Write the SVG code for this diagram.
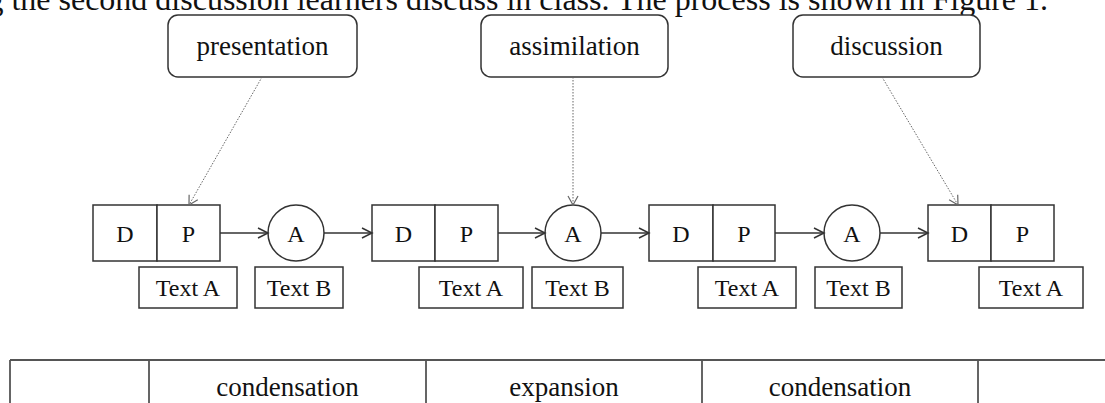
<svg xmlns="http://www.w3.org/2000/svg" width="1105" height="403" viewBox="0 0 1105 403">
<style>
text{font-family:"Liberation Serif","Times New Roman",serif;fill:#111}
.lbl{font-size:27px;text-anchor:middle}
.t{font-size:24px;text-anchor:middle}
.rb{fill:#fff;stroke:#333;stroke-width:1.5}
.bx{fill:#fff;stroke:#333;stroke-width:1.5}
.ar{fill:none;stroke:#333;stroke-width:1.5;marker-end:url(#ah)}
.dl{fill:none;stroke:#666;stroke-width:1;stroke-dasharray:1.5 1.5;marker-end:url(#dh)}
.tb{fill:none;stroke:#555;stroke-width:1.8}
</style>
<defs>
<marker id="ah" markerUnits="userSpaceOnUse" markerWidth="14" markerHeight="14" refX="11" refY="6" orient="auto">
<path d="M1,1 L11,6 L1,11" fill="none" stroke="#333" stroke-width="1.5"/>
</marker>
<marker id="dh" markerUnits="userSpaceOnUse" markerWidth="14" markerHeight="14" refX="10" refY="6" orient="auto">
<path d="M1,1 L10,6 L1,11" fill="none" stroke="#666" stroke-width="1.2"/>
</marker>
</defs>
<text x="1048" y="10" style="font-size:32px;text-anchor:end">g the second discussion learners discuss in class. The process is shown in Figure 1.</text>
<g id="presentation"><rect class="rb" x="168" y="15" width="189" height="62" rx="10"/><text class="lbl" x="262.5" y="55">presentation</text></g>
<g id="assimilation"><rect class="rb" x="481" y="15" width="187" height="62" rx="10"/><text class="lbl" x="574.5" y="55">assimilation</text></g>
<g id="discussion"><rect class="rb" x="793" y="15" width="187" height="62" rx="10"/><text class="lbl" x="886.5" y="55">discussion</text></g>
<g id="dp1"><rect class="bx" x="93" y="205" width="64" height="56"/><rect class="bx" x="157" y="205" width="63" height="56"/><text class="t" x="125" y="242">D</text><text class="t" x="188.5" y="242">P</text></g>
<g id="a1"><circle class="bx" cx="296" cy="233" r="28"/><text class="t" x="296" y="242">A</text></g>
<g id="dp2"><rect class="bx" x="372" y="205" width="63" height="56"/><rect class="bx" x="435" y="205" width="63" height="56"/><text class="t" x="403.5" y="242">D</text><text class="t" x="466.5" y="242">P</text></g>
<g id="a2"><circle class="bx" cx="573" cy="233" r="28"/><text class="t" x="573" y="242">A</text></g>
<g id="dp3"><rect class="bx" x="649" y="205" width="64" height="56"/><rect class="bx" x="713" y="205" width="62" height="56"/><text class="t" x="681" y="242">D</text><text class="t" x="744" y="242">P</text></g>
<g id="a3"><circle class="bx" cx="852" cy="233" r="28"/><text class="t" x="852" y="242">A</text></g>
<g id="dp4"><rect class="bx" x="928" y="205" width="63" height="56"/><rect class="bx" x="991" y="205" width="63" height="56"/><text class="t" x="959.5" y="242">D</text><text class="t" x="1022.5" y="242">P</text></g>
<g id="textA1"><rect class="bx" x="139" y="267" width="98" height="41"/><text class="t" x="188" y="296">Text A</text></g>
<g id="textB1"><rect class="bx" x="255" y="267" width="88" height="41"/><text class="t" x="299" y="296">Text B</text></g>
<g id="textA2"><rect class="bx" x="419" y="267" width="104" height="41"/><text class="t" x="471" y="296">Text A</text></g>
<g id="textB2"><rect class="bx" x="532" y="267" width="91" height="41"/><text class="t" x="577.5" y="296">Text B</text></g>
<g id="textA3"><rect class="bx" x="698" y="267" width="98" height="41"/><text class="t" x="747" y="296">Text A</text></g>
<g id="textB3"><rect class="bx" x="815" y="267" width="87" height="41"/><text class="t" x="858.5" y="296">Text B</text></g>
<g id="textA4"><rect class="bx" x="979" y="267" width="104" height="41"/><text class="t" x="1031" y="296">Text A</text></g>
<g id="connectors">
<path class="ar" d="M220,233 H268"/>
<path class="ar" d="M324,233 H372"/>
<path class="ar" d="M498,233 H545"/>
<path class="ar" d="M601,233 H649"/>
<path class="ar" d="M775,233 H824"/>
<path class="ar" d="M880,233 H928"/>
<path class="dl" d="M262,77 L189,205"/>
<path class="dl" d="M573,77 L573,205"/>
<path class="dl" d="M882,77 L958,205"/>
</g>
<g id="table">
<path class="tb" d="M10,360 H1105 M10,360 V403 M149,360 V403 M426,360 V403 M702,360 V403 M978,360 V403"/>
<text class="lbl" x="287.5" y="396">condensation</text>
<text class="lbl" x="564" y="396">expansion</text>
<text class="lbl" x="840" y="396">condensation</text>
</g>
</svg>
